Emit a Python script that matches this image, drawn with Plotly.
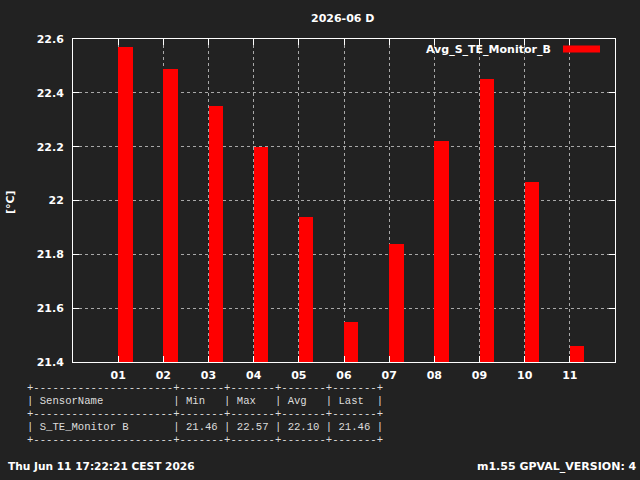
import plotly.graph_objects as go

# ---- data ----
days = ["01", "02", "03", "04", "05", "06", "07", "08", "09", "10", "11"]
avg_temp = [22.57, 22.49, 22.35, 22.20, 21.94, 21.55, 21.84, 22.22, 22.45, 22.07, 21.46]
y_ticks = [21.4, 21.6, 21.8, 22.0, 22.2, 22.4, 22.6]
y_ticktext = ["21.4", "21.6", "21.8", "22", "22.2", "22.4", "22.6"]
sensor_name = "S_TE_Monitor B"
series_name = "Avg_S_TE_Monitor_B"
title_text = "2026-06 D"
footer_left = "Thu Jun 11 17:22:21 CEST 2026"
footer_right = "m1.55 GPVAL_VERSION: 4"

W, H = 640, 480
L, R, T, B = 73, 25, 39, 118
PW, PH = W - L - R, H - T - B
BG = "#222222"
FG = "#ffffff"
FONT = "DejaVu Sans"


def px(x):
    return (x - L) / PW


def py(y):
    return (H - B - y) / PH


xpos = list(range(1, len(days) + 1))

fig = go.Figure()
fig.add_trace(go.Bar(
    x=xpos, y=avg_temp, width=0.32, offset=0,
    marker=dict(color="#ff0000", line=dict(width=0)),
    showlegend=False,
))

annotations = []
# title
annotations.append(dict(text="<b>%s</b>" % title_text, xref="paper", yref="paper",
                        x=px(342), y=py(19), xanchor="center", yanchor="middle",
                        showarrow=False, font=dict(family=FONT, size=11, color=FG)))
# y label
annotations.append(dict(text="<b>[°C]</b>", xref="paper", yref="paper",
                        x=px(10), y=py(202), xanchor="center", yanchor="middle",
                        textangle=-90, showarrow=False,
                        font=dict(family=FONT, size=11, color=FG)))
# legend text
annotations.append(dict(text="<b>%s</b>" % series_name, xref="paper", yref="paper",
                        x=px(553), y=py(49), xanchor="right", yanchor="middle",
                        showarrow=False, font=dict(family=FONT, size=11, color=FG)))
# footers
annotations.append(dict(text="<b>%s</b>" % footer_left, xref="paper", yref="paper",
                        x=px(6), y=py(466), xanchor="left", yanchor="middle",
                        showarrow=False, font=dict(family=FONT, size=10.6, color=FG)))
annotations.append(dict(text="<b>%s</b>" % footer_right, xref="paper", yref="paper",
                        x=px(639), y=py(466), xanchor="right", yanchor="middle",
                        showarrow=False, font=dict(family=FONT, size=11, color=FG)))

# stats table
vmin, vmax = min(avg_temp), max(avg_temp)
vavg = sum(avg_temp) / len(avg_temp)
vlast = avg_temp[-1]
sep = "+" + "-" * 22 + ("+" + "-" * 7) * 4 + "+"
head = "| " + "SensorName".ljust(21) + "| " + " | ".join(s.ljust(5) for s in ["Min", "Max", "Avg", "Last"]) + " |"
row = "| " + sensor_name.ljust(21) + "| " + " | ".join("%.2f" % v for v in [vmin, vmax, vavg, vlast]) + " |"
table_lines = [sep, head, sep, row, sep]
for i, line in enumerate(table_lines):
    annotations.append(dict(text=line.replace(" ", "&nbsp;"), xref="paper", yref="paper",
                            x=px(25), y=py(388 + 13 * i), xanchor="left", yanchor="middle",
                            showarrow=False,
                            font=dict(family="Liberation Mono", size=10.6, color="#dddddd")))

shapes = [dict(type="rect", xref="paper", yref="paper",
               x0=px(563), x1=px(600), y0=py(52.5), y1=py(45.5),
               fillcolor="#ff0000", line=dict(width=0))]

fig.update_layout(
    width=W, height=H,
    margin=dict(l=L, r=R, t=T, b=B, pad=0),
    paper_bgcolor=BG, plot_bgcolor=BG,
    showlegend=False,
    bargap=0,
    annotations=annotations,
    shapes=shapes,
    xaxis=dict(range=[0, 12], tickvals=xpos, ticktext=days,
               showgrid=True, gridcolor="#a8a8a8", griddash="3px,3px", gridwidth=1,
               showline=True, linecolor=FG, linewidth=1, mirror="ticks",
               ticks="inside", ticklen=6, tickcolor=FG, zeroline=False,
               tickfont=dict(family=FONT, size=11, color=FG, weight="bold"),
               ticklabelstandoff=3, fixedrange=True),
    yaxis=dict(range=[21.4, 22.6], tickvals=y_ticks, ticktext=y_ticktext,
               showgrid=True, gridcolor="#a8a8a8", griddash="3px,3px", gridwidth=1,
               showline=True, linecolor=FG, linewidth=1, mirror="ticks",
               ticks="inside", ticklen=6, tickcolor=FG, zeroline=False,
               tickfont=dict(family=FONT, size=11, color=FG, weight="bold"),
               ticklabelstandoff=6, fixedrange=True),
)

fig.write_html("out.html", config={"displayModeBar": False})
